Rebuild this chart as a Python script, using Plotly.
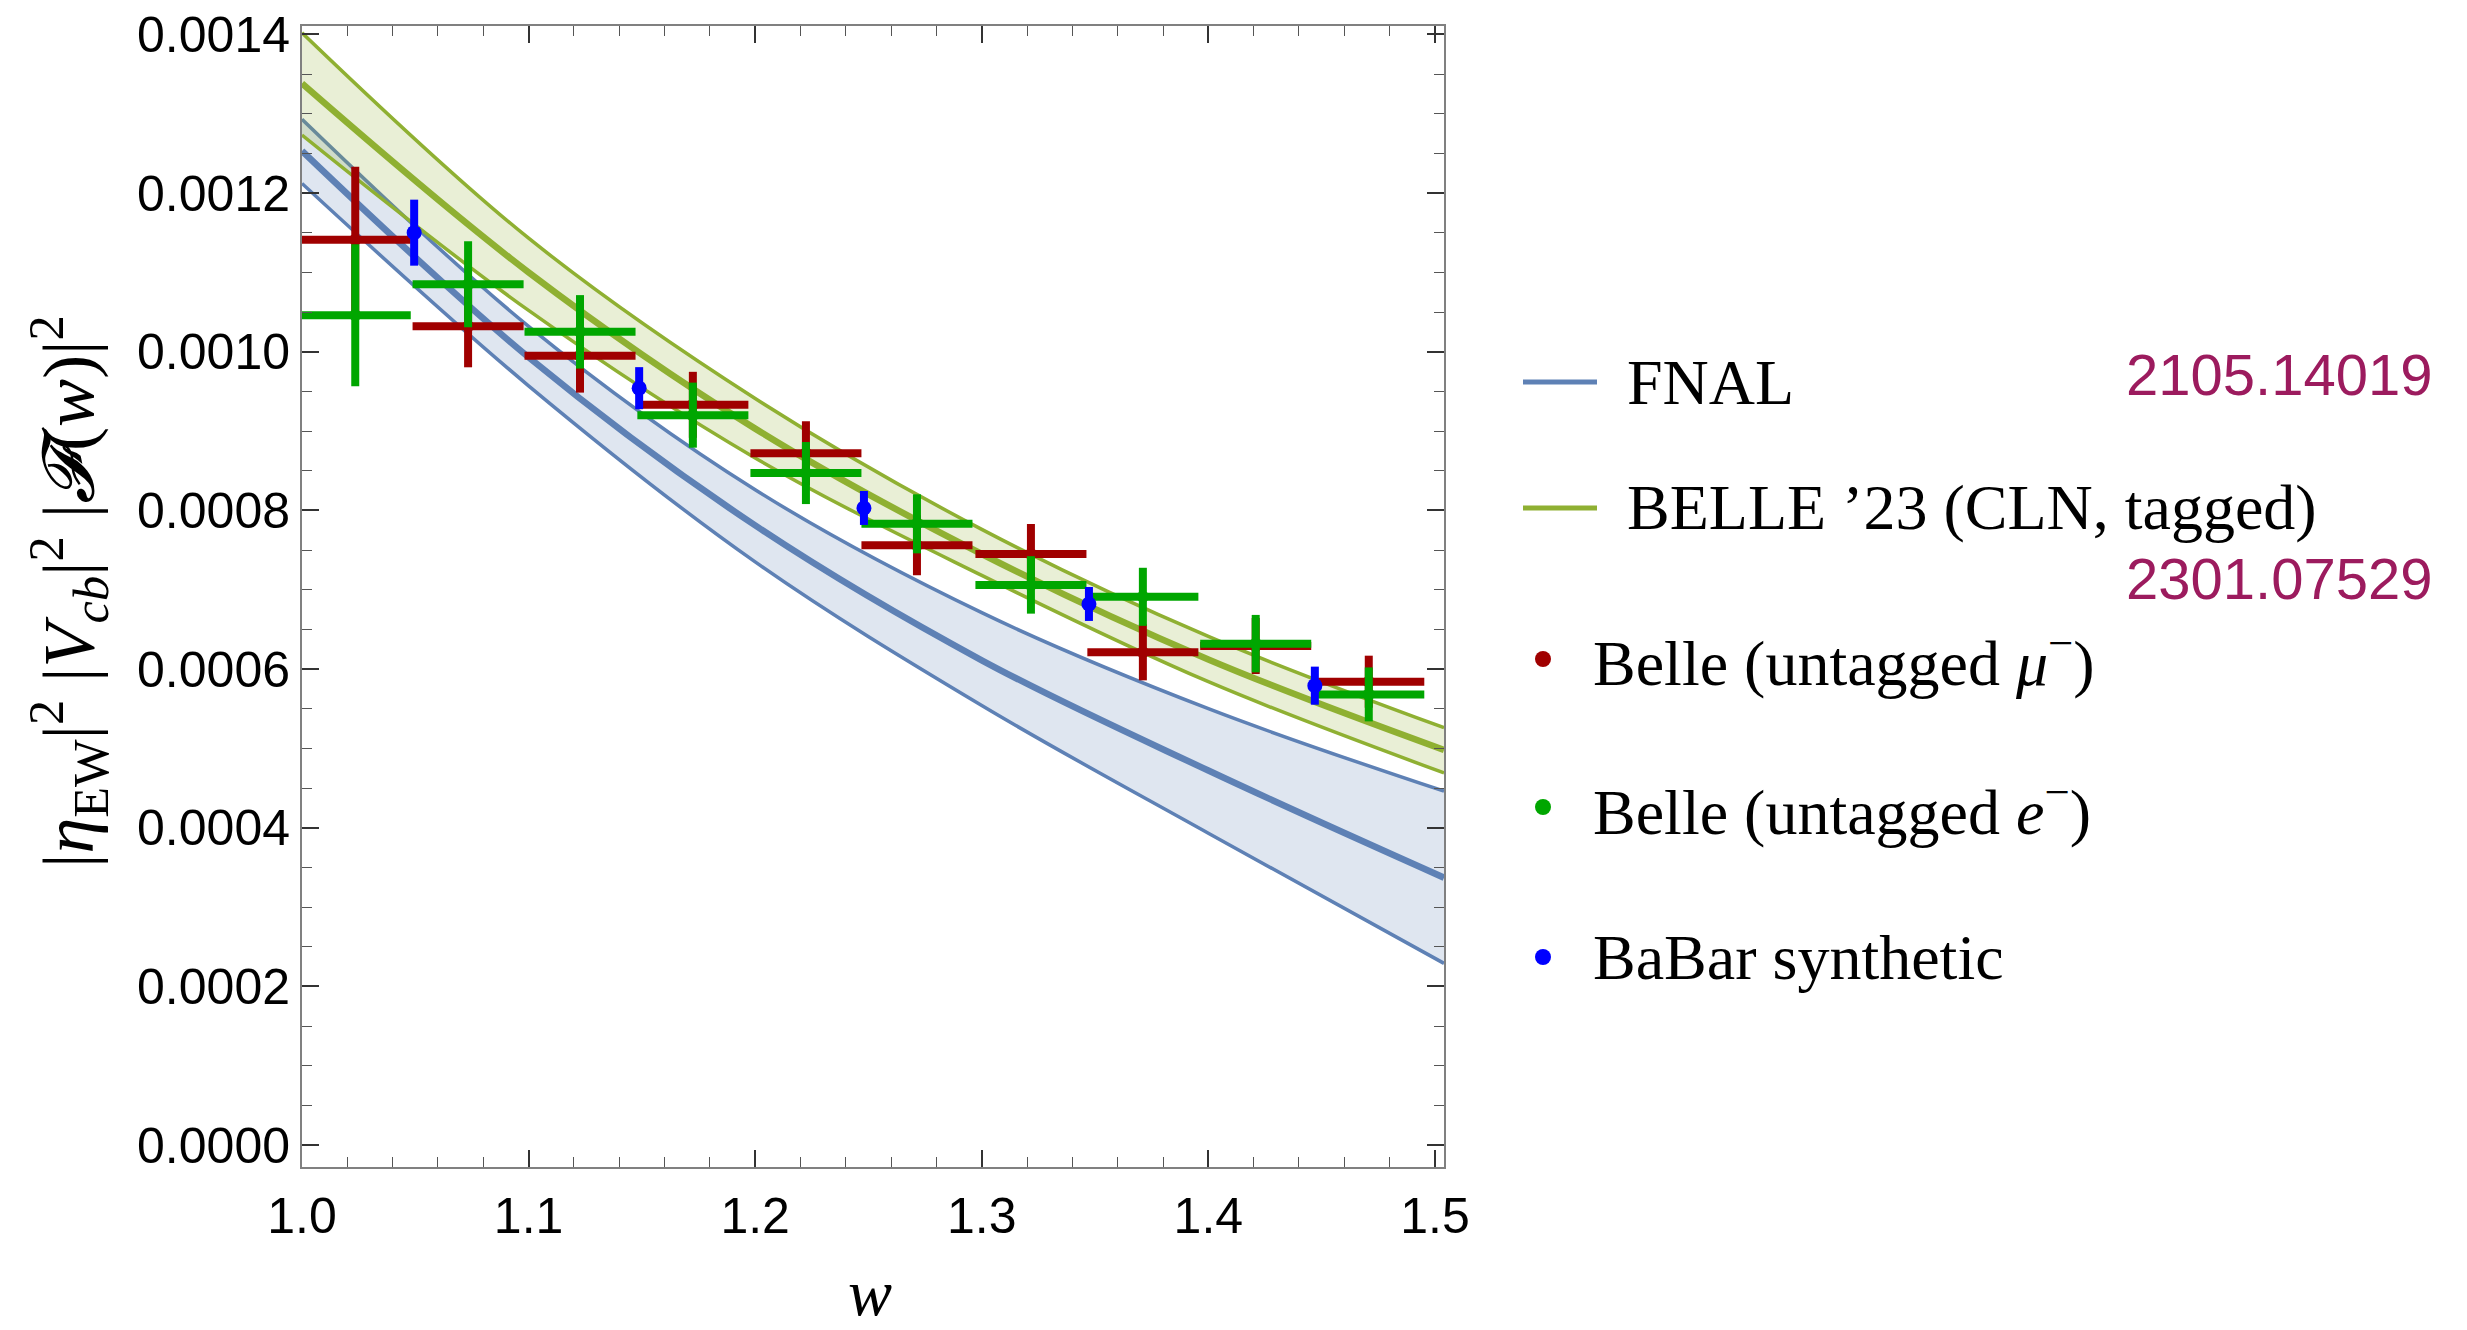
import plotly.graph_objects as go

# ---------------- data ----------------
w_belle = [1.0235, 1.0733, 1.1227, 1.1725, 1.2224, 1.2714, 1.3217, 1.3711, 1.4209, 1.4708]
bin_half = [0.0245] * 10
y_belle_mu = [0.001141, 0.001032, 0.000995, 0.000933, 0.000872, 0.000756, 0.000745, 0.000621, 0.000629, 0.000584]
err_belle_mu = [0.000092, 0.0000517, 0.0000466, 0.0000416, 0.0000403, 0.0000378, 0.0000378, 0.0000353, 0.0000353, 0.0000328]
y_belle_e = [0.001046, 0.001085, 0.001025, 0.000920, 0.000847, 0.000783, 0.000706, 0.000691, 0.000632, 0.000568]
err_belle_e = [0.0000895, 0.0000542, 0.0000463, 0.0000410, 0.0000391, 0.0000372, 0.0000362, 0.0000366, 0.0000362, 0.0000340]

w_babar = [1.0495, 1.1488, 1.2480, 1.3473, 1.4470]
y_babar = [0.001150, 0.000954, 0.000803, 0.000682, 0.000579]
err_babar = [0.0000416, 0.0000265, 0.0000214, 0.0000214, 0.0000240]

w_grid = [1.0, 1.1, 1.2, 1.3, 1.4, 1.504]
fnal_c = [0.001253, 0.000993, 0.000781, 0.000611, 0.000472, 0.000337]
fnal_hi = [0.001293, 0.001032, 0.000826, 0.000671, 0.000550, 0.000446]
fnal_lo = [0.001212, 0.000957, 0.000735, 0.000554, 0.000393, 0.000229]
belle_c = [0.001338, 0.001100, 0.000903, 0.000745, 0.000612, 0.000498]
belle_hi = [0.001402, 0.001143, 0.000941, 0.000776, 0.000641, 0.000526]
belle_lo = [0.001273, 0.001052, 0.000866, 0.000718, 0.000584, 0.000469]

legend_labels = ["FNAL", "BELLE ’23 (CLN, tagged)", "Belle (untagged <i>μ</i><sup>−</sup>)",
                 "Belle (untagged <i>e</i><sup>−</sup>)", "BaBar synthetic"]
refs = ["2105.14019", "2301.07529"]

# ---------------- styling ----------------
W, H = 2467, 1330
L, R, T, B = 302, 1444, 26, 1167
BLUE = "#5E81B5"
OLIVE = "#8FB032"
RED = "#A00000"
GREEN = "#00A600"
DBLUE = "#0000FF"
PURPLE = "#9C1B5E"

def px(x):
    return (x - L) / (R - L)

def py(y):
    return (B - y) / (B - T)

fig = go.Figure()

def band(lo, hi, c, color, fill):
    fig.add_trace(go.Scatter(x=w_grid, y=lo, mode="lines", line=dict(color=color, width=3.5, shape="spline"),
                             showlegend=False, hoverinfo="skip"))
    fig.add_trace(go.Scatter(x=w_grid, y=hi, mode="lines", line=dict(color=color, width=3.5, shape="spline"),
                             fill="tonexty", fillcolor=fill, showlegend=False, hoverinfo="skip"))
    fig.add_trace(go.Scatter(x=w_grid, y=c, mode="lines", line=dict(color=color, width=6.5, shape="spline"),
                             showlegend=False, hoverinfo="skip"))

band(fnal_lo, fnal_hi, fnal_c, BLUE, "rgba(94,129,181,0.2)")
band(belle_lo, belle_hi, belle_c, OLIVE, "rgba(143,176,50,0.2)")

def pts(x, y, ey, color, size, ex=None):
    kw = {}
    if ex is not None:
        kw["error_x"] = dict(type="data", array=ex, color=color, thickness=8, width=0)
    fig.add_trace(go.Scatter(x=x, y=y, mode="markers", marker=dict(color=color, size=size),
                             error_y=dict(type="data", array=ey, color=color, thickness=8, width=0),
                             showlegend=False, **kw))

pts(w_belle, y_belle_mu, err_belle_mu, RED, 12, bin_half)
pts(w_belle, y_belle_e, err_belle_e, GREEN, 12, bin_half)
pts(w_babar, y_babar, err_babar, DBLUE, 15)

axis_common = dict(showline=True, linecolor="#808080", linewidth=2, mirror="allticks",
                   ticks="inside", ticklen=17, tickwidth=1.5, tickcolor="#333333",
                   showgrid=False, zeroline=False,
                   tickfont=dict(family="Liberation Sans, Arial", size=50, color="black"))

fig.update_xaxes(range=[1.0, 1.504], tick0=1.0, dtick=0.1, tickformat=".1f", ticklabelstandoff=4,
                 minor=dict(dtick=0.02, ticks="inside", ticklen=10, tickwidth=1.2, tickcolor="#555555"),
                 **axis_common)
fig.update_yaxes(range=[-0.0000277, 0.0014105], tick0=0, dtick=0.0002, tickformat=".4f", ticklabelstandoff=0,
                 minor=dict(dtick=0.00005, ticks="inside", ticklen=10, tickwidth=1.2, tickcolor="#555555"),
                 **axis_common)

shapes = []
anns = []
serif = dict(family="Liberation Serif, Times New Roman, serif", size=64, color="black")

# legend entries
shapes.append(dict(type="line", xref="paper", yref="paper", x0=px(1523), x1=px(1597), y0=py(382), y1=py(382),
                   line=dict(color=BLUE, width=5)))
shapes.append(dict(type="line", xref="paper", yref="paper", x0=px(1523), x1=px(1597), y0=py(508), y1=py(508),
                   line=dict(color=OLIVE, width=5)))
for yy, col in [(659, RED), (807, GREEN), (957, DBLUE)]:
    shapes.append(dict(type="circle", xref="paper", yref="paper", x0=px(1535), x1=px(1551),
                       y0=py(yy + 8), y1=py(yy - 8), fillcolor=col, line=dict(width=0)))

for (xx, yy), txt in zip([(1625, 382), (1625, 508), (1591, 659), (1591, 807), (1591, 957)], legend_labels):
    anns.append(dict(xref="paper", yref="paper", x=px(xx), y=py(yy), text=txt, showarrow=False,
                     xanchor="left", yanchor="middle", font=serif))

for (xx, yy), txt in zip([(2434, 374), (2434, 578)], refs):
    anns.append(dict(xref="paper", yref="paper", x=px(xx), y=py(yy), text=txt, showarrow=False,
                     xanchor="right", yanchor="middle",
                     font=dict(family="Liberation Sans, Arial", size=58, color=PURPLE)))

# axis titles
anns.append(dict(xref="paper", yref="paper", x=px(870), y=py(1292), text="<i>w</i>", showarrow=False,
                 xanchor="center", yanchor="middle",
                 font=dict(family="Liberation Serif, Times New Roman, serif", size=66, color="black")))
anns.append(dict(xref="paper", yref="paper", x=px(68), y=py(592),
                 text="|<i>η</i><sub>EW</sub>|<sup>2</sup> |<i>V</i><sub><i>cb</i></sub>|<sup>2</sup> |<i>𝓕</i>(<i>w</i>)|<sup>2</sup>",
                 showarrow=False, textangle=-90, xanchor="center", yanchor="middle",
                 font=dict(family="Liberation Serif, Times New Roman, serif", size=72, color="black")))

fig.update_layout(width=W, height=H, margin=dict(l=L, r=W - R, t=T, b=H - B, autoexpand=False),
                  plot_bgcolor="white", paper_bgcolor="white", shapes=shapes, annotations=anns,
                  showlegend=False)

fig.write_html("out.html")
